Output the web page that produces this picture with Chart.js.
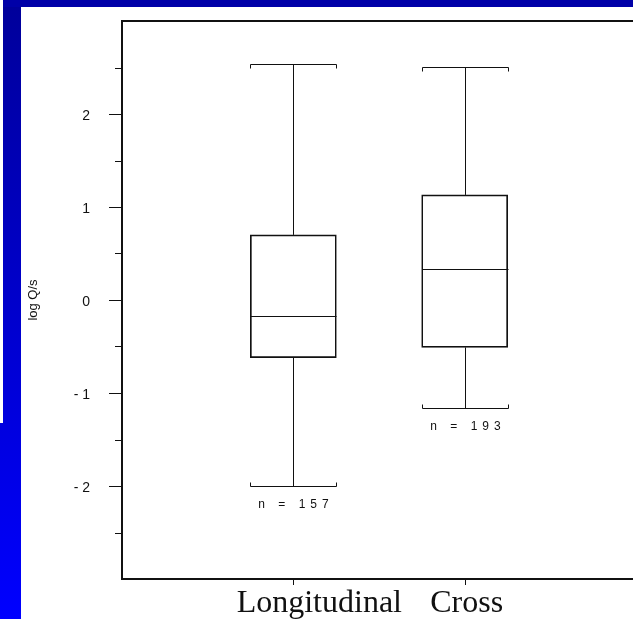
<!DOCTYPE html>
<html>
<head>
<meta charset="utf-8">
<script src="https://cdn.jsdelivr.net/npm/chart.js@4"></script>
<style>
  html, body { margin: 0; padding: 0; background: #fff; }
  body { width: 633px; height: 619px; overflow: hidden; position: relative; }
  #chart { position: absolute; left: 0; top: 0; }
  .band { position: absolute; z-index: 2; }
  #bandLeft { left: 0; top: 0; width: 21px; height: 619px; background: linear-gradient(#00009a, #0000ff); }
  #bandNotch { left: 0; top: 0; width: 3px; height: 423px; background: #fff; }
  #bandTop { left: 3px; top: 0; width: 630px; height: 7px; background: #0000a8; }
</style>
</head>
<body>
<div class="band" id="bandLeft"></div>
<div class="band" id="bandNotch"></div>
<div class="band" id="bandTop"></div>
<canvas id="chart" width="640" height="619"></canvas>
<script>
const categories = ['Longitudinal', 'Cross'];
const whiskerLow = [-2.0, -1.16];
const q1 = [-0.62, -0.51];
const median = [-0.175, 0.33];
const q3 = [0.70, 1.13];
const whiskerHigh = [2.535, 2.51];
const counts = [157, 193];

const yMajorTicks = [-2, -1, 0, 1, 2];
const yMinorTicks = [-2.5, -1.5, -0.5, 0.5, 1.5, 2.5];
const yTitle = 'log Q/s';

const boxWidth = 86;

// whiskers, medians, axes and labels drawn on top of the floating bars
const boxPlotPlugin = {
  id: 'boxPlot',
  afterDraw(chart) {
    const ctx = chart.ctx;
    const area = chart.chartArea;
    const xs = chart.scales.x;
    const ys = chart.scales.y;
    const half = boxWidth / 2;
    const crisp = v => Math.round(v) + 0.5;

    ctx.save();
    ctx.strokeStyle = '#111';
    ctx.lineWidth = 1;

    categories.forEach((cat, i) => {
      const cx = crisp(xs.getPixelForValue(i + 1));
      const yHi = crisp(ys.getPixelForValue(whiskerHigh[i]));
      const yLo = crisp(ys.getPixelForValue(whiskerLow[i]));
      const yQ1 = ys.getPixelForValue(q1[i]);
      const yQ3 = ys.getPixelForValue(q3[i]);
      const yMed = crisp(ys.getPixelForValue(median[i]));

      ctx.beginPath();
      // whisker stems
      ctx.moveTo(cx, yQ3); ctx.lineTo(cx, yHi);
      ctx.moveTo(cx, yQ1); ctx.lineTo(cx, yLo);
      // caps with small end hooks
      ctx.moveTo(cx - half, yHi + 4); ctx.lineTo(cx - half, yHi);
      ctx.lineTo(cx + half, yHi); ctx.lineTo(cx + half, yHi + 4);
      ctx.moveTo(cx - half, yLo - 4); ctx.lineTo(cx - half, yLo);
      ctx.lineTo(cx + half, yLo); ctx.lineTo(cx + half, yLo - 4);
      // median
      ctx.moveTo(cx - half, yMed); ctx.lineTo(cx + half, yMed);
      ctx.stroke();

      // sample size under the lower whisker
      ctx.fillStyle = '#111';
      ctx.font = '12px "Liberation Sans", Arial, sans-serif';
      ctx.letterSpacing = '5px';
      ctx.textBaseline = 'alphabetic';
      ctx.textAlign = 'left';
      const txt = 'n = ' + counts[i];
      const w = ctx.measureText(txt).width - 5;
      ctx.fillText(txt, cx - w / 2, yLo + 21.5);
      ctx.letterSpacing = '0px';
    });

    // frame: left, top and bottom edges
    ctx.lineWidth = 2;
    ctx.strokeStyle = '#111';
    ctx.beginPath();
    ctx.moveTo(area.right + 2, area.top);
    ctx.lineTo(area.left, area.top);
    ctx.lineTo(area.left, area.bottom);
    ctx.lineTo(area.right + 2, area.bottom);
    ctx.stroke();

    // y ticks
    ctx.lineWidth = 1;
    ctx.beginPath();
    yMajorTicks.forEach(v => {
      const y = crisp(ys.getPixelForValue(v));
      ctx.moveTo(area.left - 13, y); ctx.lineTo(area.left, y);
    });
    yMinorTicks.forEach(v => {
      const y = crisp(ys.getPixelForValue(v));
      ctx.moveTo(area.left - 7, y); ctx.lineTo(area.left, y);
    });
    // x ticks
    categories.forEach((cat, i) => {
      const x = crisp(xs.getPixelForValue(i + 1));
      ctx.moveTo(x, area.bottom); ctx.lineTo(x, area.bottom + 6);
    });
    ctx.stroke();

    // y tick labels
    ctx.fillStyle = '#111';
    ctx.font = '14px "Liberation Sans", Arial, sans-serif';
    ctx.textAlign = 'right';
    ctx.textBaseline = 'middle';
    yMajorTicks.forEach(v => {
      const label = v < 0 ? '- ' + Math.abs(v) : String(v);
      ctx.fillText(label, 90, ys.getPixelForValue(v) + 2.5);
    });

    // y axis title
    ctx.save();
    ctx.translate(33, (area.top + area.bottom) / 2);
    ctx.rotate(-Math.PI / 2);
    ctx.textAlign = 'center';
    ctx.font = '13px "Liberation Sans", Arial, sans-serif';
    ctx.fillText(yTitle, 0, 0);
    ctx.restore();

    // category names
    const nameShift = [26, 2];
    ctx.font = '32px "Liberation Serif", "Times New Roman", serif';
    ctx.textAlign = 'center';
    ctx.textBaseline = 'alphabetic';
    categories.forEach((cat, i) => {
      ctx.fillText(cat, xs.getPixelForValue(i + 1) + nameShift[i], 612);
    });
    ctx.restore();
  }
};

new Chart(document.getElementById('chart'), {
  type: 'bar',
  data: {
    labels: ['', ...categories, ''],
    datasets: [{
      data: [null, ...categories.map((c, i) => [q1[i], q3[i]]), null],
      backgroundColor: 'rgba(0,0,0,0)',
      borderColor: '#111',
      borderWidth: 1,
      borderSkipped: false,
      barThickness: boxWidth
    }]
  },
  options: {
    responsive: false,
    animation: false,
    devicePixelRatio: 1,
    layout: { padding: { left: 122, top: 21, right: 4, bottom: 40 } },
    plugins: { legend: { display: false }, tooltip: { enabled: false } },
    scales: {
      x: { display: false, offset: false },
      y: { display: false, min: -3, max: 3 }
    }
  },
  plugins: [boxPlotPlugin]
});
</script>
</body>
</html>
